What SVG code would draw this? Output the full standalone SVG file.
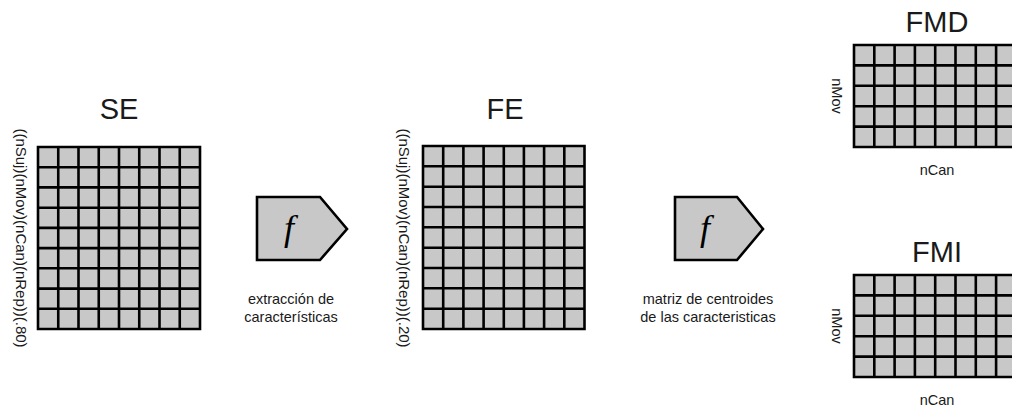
<svg xmlns="http://www.w3.org/2000/svg" width="1012" height="411" viewBox="0 0 1012 411">
<defs>
<style>
.cell{fill:#c8c8c8;stroke:none}
.gl{stroke:#000;stroke-width:2.6;fill:none}
.title{font-family:"Liberation Sans",Arial,sans-serif;font-size:29px;fill:#1a1a1a;text-anchor:middle}
.lbl{font-family:"Liberation Sans",Arial,sans-serif;font-size:14.5px;fill:#1a1a1a;text-anchor:middle}
.vl{font-size:15px}
.pent{fill:#c8c8c8;stroke:#000;stroke-width:2.6;stroke-linejoin:miter}
.fx{font-family:"Liberation Serif","Times New Roman",serif;font-style:italic;font-size:36px;fill:#000;text-anchor:middle}
</style>
</defs>
<rect width="1012" height="411" fill="#fff"/>

<g id="SE">
<text class="title" x="119" y="119">SE</text>
<text class="lbl vl" transform="translate(16,238) rotate(90)">((nSuj)(nMov)(nCan)(nRep))(.80)</text>
<rect class="cell" x="38" y="147" width="162" height="182"/>
<path class="gl" d="M38 147H200V329H38Z M58.25 147V329 M78.5 147V329 M98.75 147V329 M119 147V329 M139.25 147V329 M159.5 147V329 M179.75 147V329 M38 167.2H200 M38 187.4H200 M38 207.7H200 M38 227.9H200 M38 248.1H200 M38 268.3H200 M38 288.6H200 M38 308.8H200"/>
</g>

<g id="f1">
<polygon class="pent" points="257,197 320,197 347,229 320,260 257,260"/>
<text class="fx" x="289" y="240">f</text>
<text class="lbl" x="291" y="304">extracción de</text>
<text class="lbl" x="291" y="322">características</text>
</g>

<g id="FE">
<text class="title" x="505" y="119">FE</text>
<text class="lbl vl" transform="translate(399,238) rotate(90)">((nSuj)(nMov)(nCan)(nRep))(.20)</text>
<rect class="cell" x="423" y="146" width="161.5" height="183"/>
<path class="gl" d="M423 146H584.5V329H423Z M443.2 146V329 M463.4 146V329 M483.6 146V329 M503.8 146V329 M523.9 146V329 M544.1 146V329 M564.3 146V329 M423 166.3H584.5 M423 186.7H584.5 M423 207H584.5 M423 227.3H584.5 M423 247.7H584.5 M423 268H584.5 M423 288.3H584.5 M423 308.7H584.5"/>
</g>

<g id="f2">
<polygon class="pent" points="675,197 737,197 763,229 737,260 675,260"/>
<text class="fx" x="705" y="240">f</text>
<text class="lbl" x="708" y="304">matriz de centroides</text>
<text class="lbl" x="708" y="322">de las caracteristicas</text>
</g>

<g id="FMD">
<text class="title" x="937" y="32">FMD</text>
<text class="lbl" transform="translate(832,96) rotate(90)">nMov</text>
<text class="lbl" x="937" y="175">nCan</text>
<rect class="cell" x="854" y="45" width="163" height="102"/>
<path class="gl" d="M1016 45H854V147H1016 M874.3 45V147 M894.6 45V147 M914.9 45V147 M935.2 45V147 M955.5 45V147 M975.8 45V147 M996.1 45V147 M854 65.4H1016 M854 85.8H1016 M854 106.2H1016 M854 126.6H1016"/>
</g>

<g id="FMI">
<text class="title" x="937" y="262">FMI</text>
<text class="lbl" transform="translate(832,326) rotate(90)">nMov</text>
<text class="lbl" x="937" y="405">nCan</text>
<rect class="cell" x="854" y="275" width="163" height="102"/>
<path class="gl" d="M1016 275H854V377H1016 M874.3 275V377 M894.6 275V377 M914.9 275V377 M935.2 275V377 M955.5 275V377 M975.8 275V377 M996.1 275V377 M854 295.4H1016 M854 315.8H1016 M854 336.2H1016 M854 356.6H1016"/>
</g>

<g id="connectors"></g>
</svg>
